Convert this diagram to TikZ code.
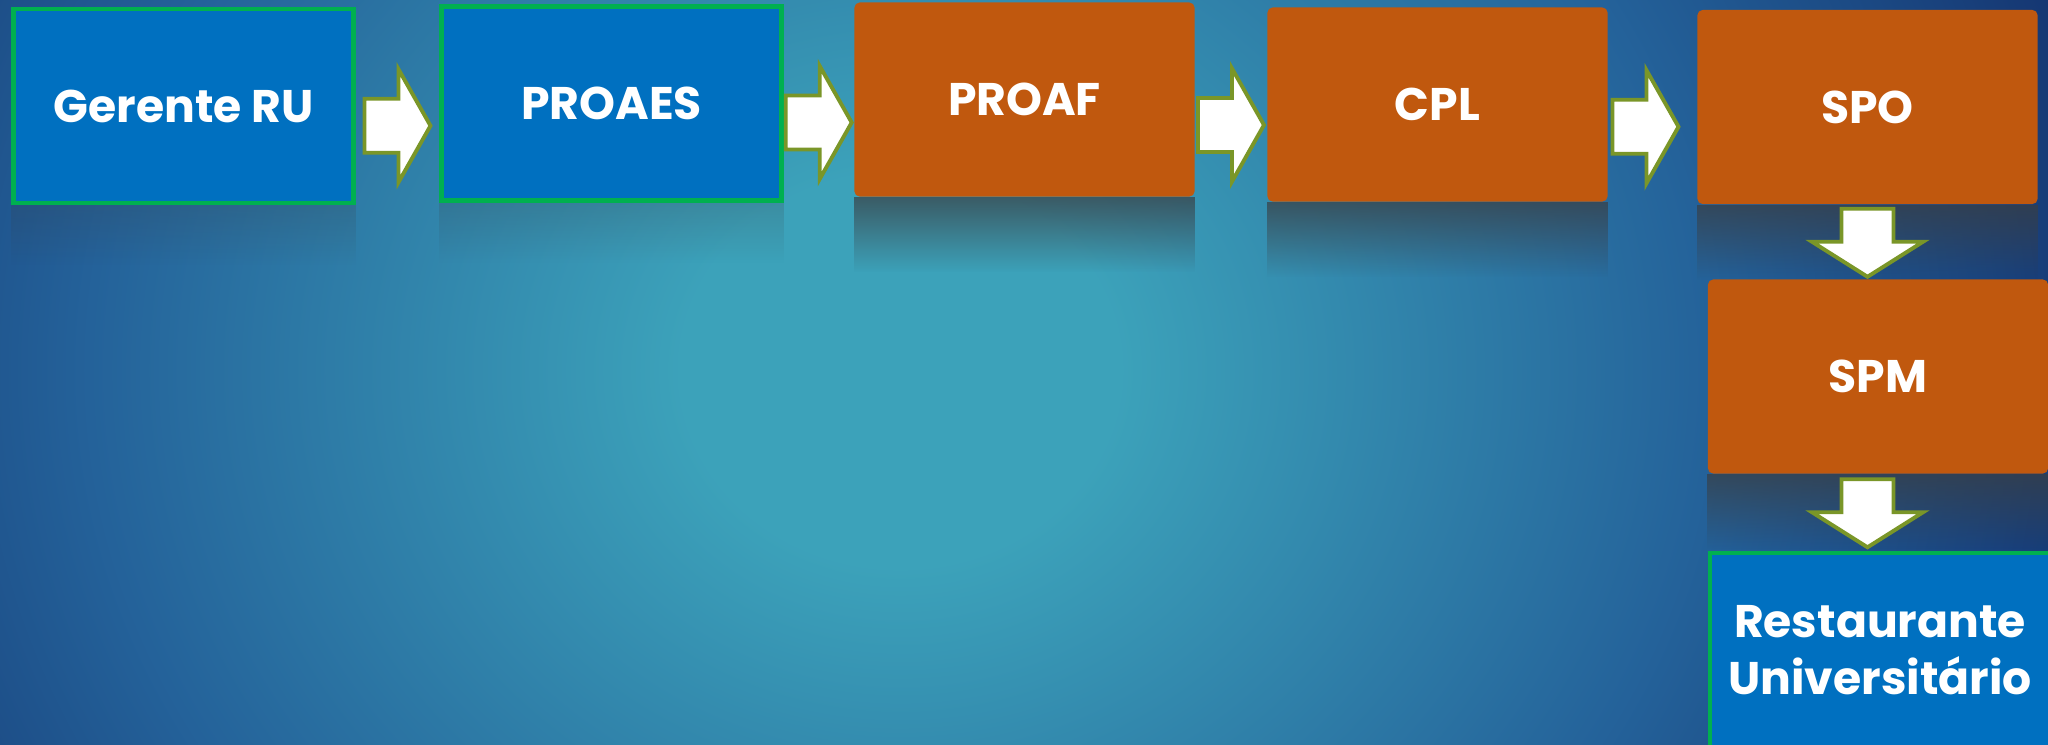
\documentclass[tikz,border=0pt]{standalone}
\usepackage{fontspec}
\setmainfont{Poppins}
\usetikzlibrary{calc,fadings}

\definecolor{boxblue}{RGB}{0,112,192}
\definecolor{boxgreen}{RGB}{0,176,80}
\definecolor{boxorange}{RGB}{192,88,14}
\definecolor{arrowgreen}{RGB}{122,150,40}
\definecolor{bgteal}{RGB}{60,162,186}
\definecolor{bgblue}{RGB}{36,98,154}
\definecolor{bgnavy}{RGB}{20,52,112}
\definecolor{mirror}{RGB}{58,62,66}

\pgfdeclareradialshading{backdrop}{\pgfpoint{0bp}{0bp}}{color(0bp)=(bgteal); color(3.5bp)=(bgteal); color(13bp)=(bgblue); color(20bp)=(bgnavy); color(50bp)=(bgnavy)}

\begin{document}
\begin{tikzpicture}[x=0.01cm,y=-0.01cm,
        stage/.style={minimum width=3.4cm,minimum height=1.94cm,inner sep=0pt,text=white,
            font=\fontsize{13pt}{16.2pt}\selectfont\bfseries,align=center},
        ownbox/.style={stage,fill=boxblue,draw=boxgreen,line width=1.2pt},
        extbox/.style={stage,fill=boxorange,rounded corners=1.5pt},
        blockarrow/.style={fill=white,draw=arrowgreen,line width=1.1pt,line join=miter},
        reflect/.style={fill=mirror,path fading=south}]

        \clip (0,0) rectangle (2048,744);
        \shade[shading=backdrop] (900,370) ellipse [x radius=1560, y radius=1400];

        \node[ownbox] (gerente) at (183.5,106) {Gerente RU};
        \node[ownbox] (proaes) at (611.5,103.5) {PROAES};
        \node[extbox] (proaf) at (1024.5,99.5) {PROAF};
        \node[extbox] (cpl) at (1437.5,104.5) {CPL};
        \node[extbox] (spo) at (1867.5,107) {SPO};
        \node[extbox] (spm) at (1878,376.5) {SPM};
        \node[ownbox] (rest) at (1880,650) {Restaurante\\Universitário};

        \fill[reflect,opacity=0.2] (gerente.south west) rectangle ([yshift=-0.6cm]gerente.south east);
        \fill[reflect,opacity=0.2] (proaes.south west) rectangle ([yshift=-0.6cm]proaes.south east);
        \fill[reflect,opacity=0.7] (proaf.south west) rectangle ([yshift=-0.75cm]proaf.south east);
        \fill[reflect,opacity=0.7] (cpl.south west) rectangle ([yshift=-0.75cm]cpl.south east);
        \fill[reflect,opacity=0.7] (spo.south west) rectangle ([yshift=-0.75cm]spo.south east);
        \fill[reflect,opacity=0.7] (spm.south west) rectangle ([yshift=-0.75cm]spm.south east);

        \draw[blockarrow] ($(gerente.east)!0.5!(proaes.west)+(-33,-6)$) -- ++(34,0) -- ++(0,-29.5) -- ++(32,56.5) -- ++(-32,56.5) -- ++(0,-29.5) -- ++(-34,0) -- cycle;
        \draw[blockarrow] ($(proaes.east)!0.5!(proaf.west)+(-33,-6)$) -- ++(34,0) -- ++(0,-29.5) -- ++(32,56.5) -- ++(-32,56.5) -- ++(0,-29.5) -- ++(-34,0) -- cycle;
        \draw[blockarrow] ($(proaf.east)!0.5!(cpl.west)+(-33,-4)$) -- ++(34,0) -- ++(0,-29.5) -- ++(32,56.5) -- ++(-32,56.5) -- ++(0,-29.5) -- ++(-34,0) -- cycle;
        \draw[blockarrow] ($(cpl.east)!0.5!(spo.west)+(-40,-6)$) -- ++(34,0) -- ++(0,-29.5) -- ++(32,56.5) -- ++(-32,56.5) -- ++(0,-29.5) -- ++(-34,0) -- cycle;
        \draw[blockarrow] ($(spo.south)+(-26,4)$) -- ++(52,0) -- ++(0,33) -- ++(29.5,0) -- ++(-55.5,35) -- ++(-55.5,-35) -- ++(29.5,0) -- cycle;
        \draw[blockarrow] ($(spo.south |- spm.south)+(-26,5)$) -- ++(52,0) -- ++(0,33) -- ++(29.5,0) -- ++(-55.5,35) -- ++(-55.5,-35) -- ++(29.5,0) -- cycle;
    \end{tikzpicture}
\end{document}
